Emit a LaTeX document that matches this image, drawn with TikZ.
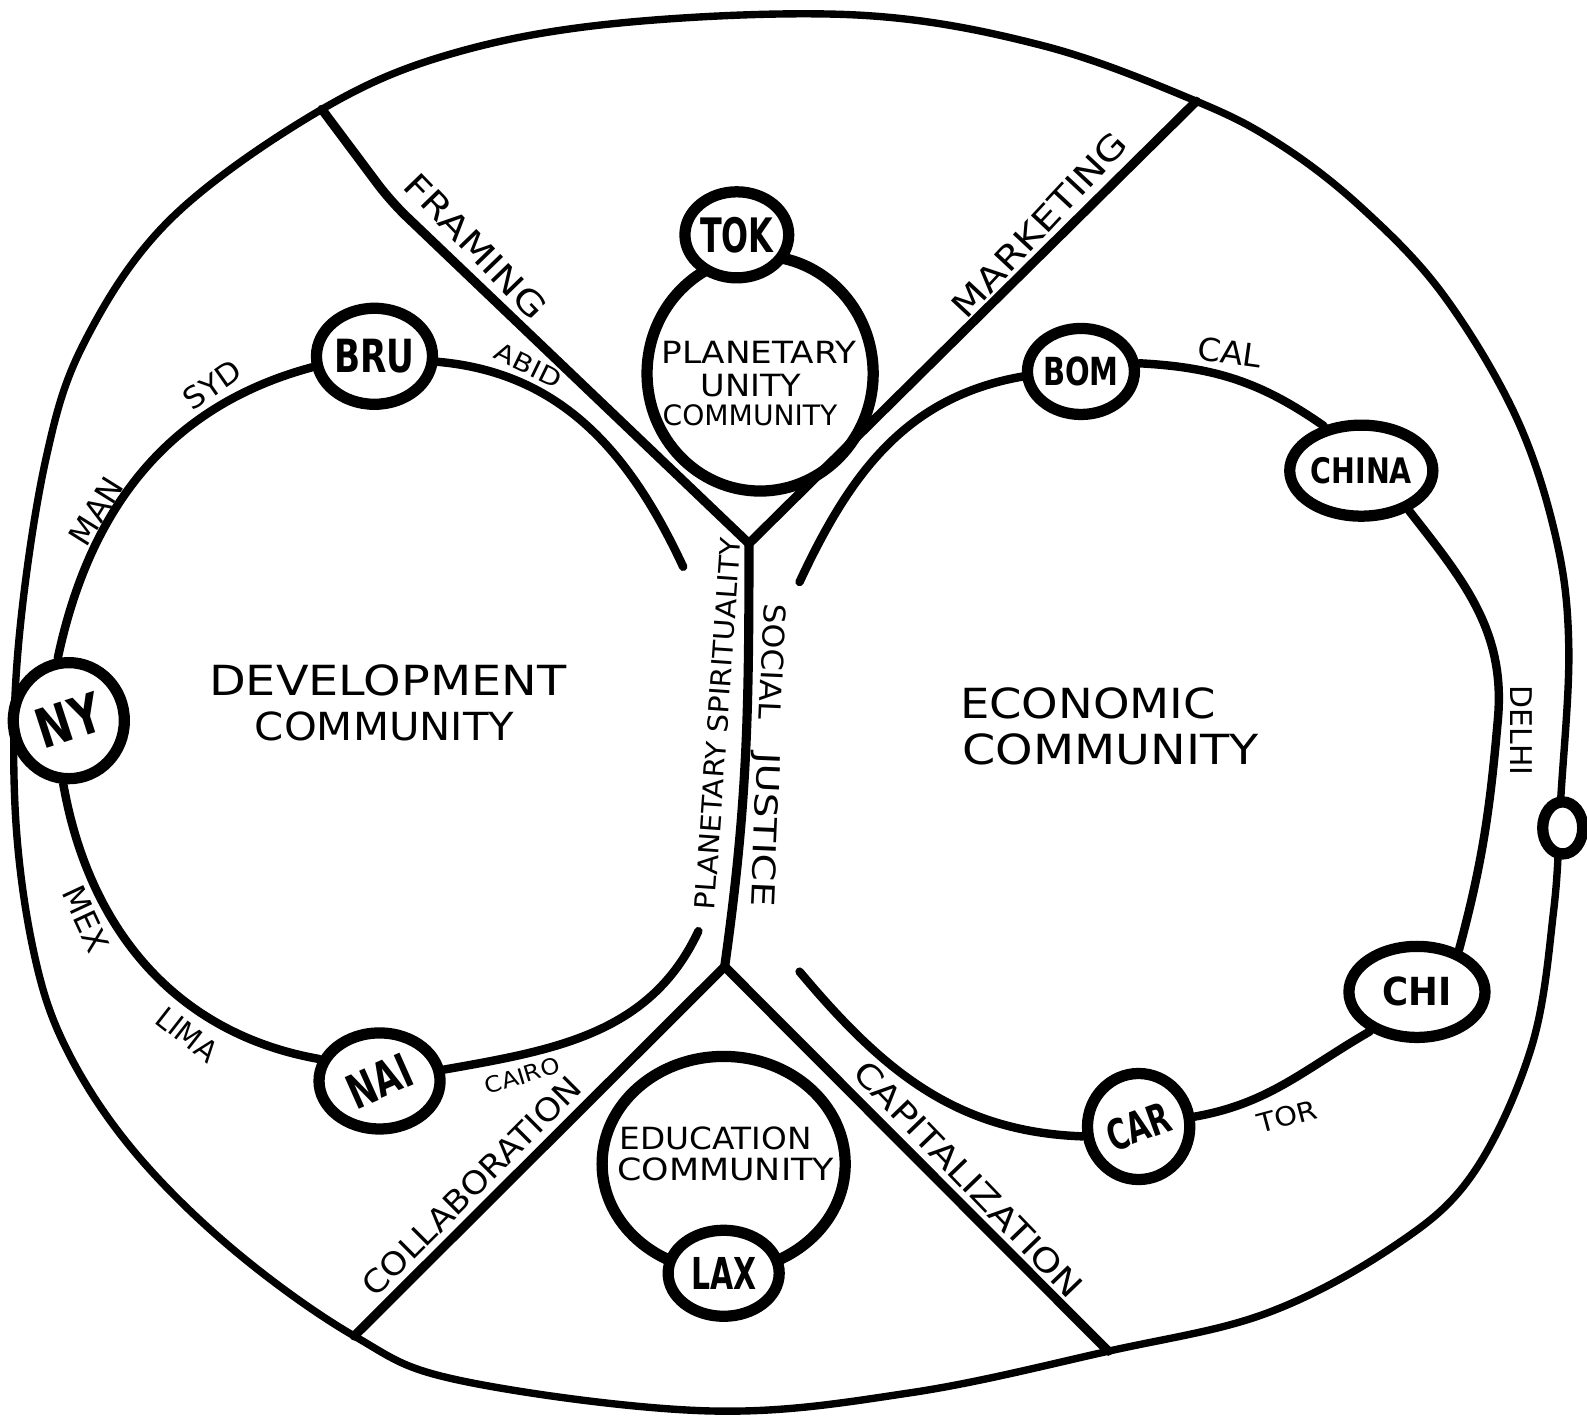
\documentclass[tikz,border=0pt]{standalone}
\usepackage{fontspec}
\setmainfont{DejaVu Sans}
\usepackage{graphicx}
\usetikzlibrary{shapes.geometric}
\newcommand\Tx[3]{{\fontsize{#1pt}{#1pt}\selectfont\scalebox{#2}[1]{#3}}}
\newcommand\Bx[3]{{\fontsize{#1pt}{#1pt}\selectfont\bfseries\scalebox{#2}[1]{#3}}}
\tikzset{
 city/.style={ellipse, draw, line width=3.2pt, fill=white, inner sep=0pt},
 ring/.style={ellipse, draw, line width=3.2pt, inner sep=0pt},
 arcline/.style={line width=2.4pt, line cap=round},
 divide/.style={line width=2.6pt, line cap=round, line join=round},
 rim/.style={line width=2.1pt},
 lab/.style={inner sep=0pt},
}
\begin{document}
\begin{tikzpicture}[x=0.01012cm,y=-0.01012cm]
\fill[white] (0,0) rectangle (1568,1405);
\useasboundingbox (0,0) rectangle (1568,1405);
% key points
\coordinate (ftl) at (318,108);
\coordinate (fk) at (386,199);
\coordinate (mtr) at (1182,100);
\coordinate (cbl) at (350,1320);
\coordinate (cbr) at (1095,1335);
\coordinate (yt) at (740,537);
\coordinate (yb) at (716,955);
\coordinate (dv1) at (690,920);
\coordinate (dv2) at (675,560);
\coordinate (ec1) at (790,575);
\coordinate (ec2) at (1480,710);
\coordinate (ec3) at (790,960);
% outer boundary
\draw[rim] plot[smooth cycle, tension=0.6] coordinates {(ftl) (450,52) (620,22) (850,15) (1030,45) (mtr) (1265,143) (1345,205) (1425,290) (1497,410) (1537,530) (1550,640) (1542,790) (1535,900) (1513,1035) (1455,1160) (1376,1232) (1250,1298) (cbr) (900,1376) (700,1394) (455,1364) (cbl) (231,1235) (132,1137) (66,1037) (33,939) (15,800) (18,640) (45,455) (85,335) (170,215)};
% dividing lines
\draw[divide, rounded corners=6pt] (ftl) -- (fk) -- (yt);
\draw[divide] (mtr) -- (yt);
\draw[divide] (yt) to[out=-90,in=82] (yb);
\draw[divide] (yb) -- (cbl);
\draw[divide] (yb) -- (cbr);
% nodes
\node[ring, minimum width=2.26cm, minimum height=2.35cm] (puc) at (751,369) {};
\node[ring, minimum width=2.43cm, minimum height=2.15cm] (edu) at (715,1150) {};
\node[city, minimum width=1.01cm, minimum height=0.86cm] (tok) at (728,232) {\Bx{13.5}{0.67}{TOK}};
\node[city, minimum width=1.11cm, minimum height=0.86cm] (lax) at (715,1258) {\Bx{12.5}{0.68}{LAX}};
\node[city, minimum width=1.16cm, minimum height=0.96cm] (bru) at (370,352) {\Bx{13}{0.75}{BRU}};
\node[city, minimum width=1.11cm, minimum height=1.16cm] (ny) at (68,712) {\rotatebox{18}{\Bx{15.5}{0.77}{NY}}};
\node[city, minimum width=1.21cm, minimum height=0.96cm] (nai) at (375,1068) {\rotatebox{24}{\Bx{13.5}{0.7}{NAI}}};
\node[city, minimum width=1.01cm, minimum height=0.86cm] (bom) at (1068,367) {\Bx{11}{0.75}{BOM}};
\node[city, minimum width=1.23cm, minimum height=0.91cm] (china) at (1345,465) {\Bx{10}{0.81}{CHINA}};
\node[city, minimum width=1.36cm, minimum height=0.91cm] (chi) at (1400,980) {\Bx{11}{0.92}{CHI}};
\node[city, minimum width=0.99cm, minimum height=1.06cm] (car) at (1125,1113) {\rotatebox{20}{\Bx{12}{0.68}{CAR}}};
\node[city, minimum width=0.40cm, minimum height=0.52cm] (rn) at (1544,818) {};
% development community ring
\draw[arcline] (bru.190) to[out=195,in=78] (ny.100);
\draw[arcline] (ny.265) to[out=-80,in=170] (nai.160);
\draw[arcline] (nai.10) to[out=10,in=-115] (dv1);
\draw[arcline] (bru.-5) to[out=-5,in=115] (dv2);
% economic community ring
\draw[arcline] (bom.185) to[out=190,in=65] (ec1);
\draw[arcline] (bom.8) to[out=-3,in=145] (china.130);
\draw[arcline] (china.-40) to[out=-52,in=85] (ec2) to[out=-95,in=75] (chi.45);
\draw[arcline] (chi.220) to[out=-150,in=10] (car.10);
\draw[arcline] (car.190) to[out=178,in=-50] (ec3);
% community texts
\node[lab] (t1) at (383,672) {\Tx{11.8}{1.15}{DEVELOPMENT}};
\node[lab] (t2) at (380,718) {\Tx{11}{1.08}{COMMUNITY}};
\node[lab] (t3) at (1075,695) {\Tx{11.8}{1.12}{ECONOMIC}};
\node[lab] (t4) at (1097,740) {\Tx{11.8}{1.15}{COMMUNITY}};
\node[lab] (t5) at (750,348) {\Tx{8.7}{1.12}{PLANETARY}};
\node[lab] (t6) at (742,381) {\Tx{8.7}{1.1}{UNITY}};
\node[lab] (t7) at (741,410) {\Tx{8}{1.0}{COMMUNITY}};
\node[lab] (t8) at (707,1125) {\Tx{8.7}{1.07}{EDUCATION}};
\node[lab] (t9) at (717,1155) {\Tx{8.7}{1.14}{COMMUNITY}};
% line labels
\node[lab, rotate=-46] (l1) at (470,243) {\Tx{9.5}{1.22}{FRAMING}};
\node[lab, rotate=47] (l2) at (1027,222) {\Tx{9.5}{1.2}{MARKETING}};
\node[lab, rotate=45] (l3) at (466,1172) {\Tx{9}{1.1}{COLLABORATION}};
\node[lab, rotate=-46] (l4) at (957,1165) {\Tx{9.2}{1.2}{CAPITALIZATION}};
\node[lab, rotate=86] (l5) at (709,715) {\Tx{7.9}{1.06}{PLANETARY SPIRITUALITY}};
\node[lab, rotate=-92.5] (l6) at (757,746) {\Tx{8.5}{1.06}{SOCIAL}\hspace{9.5pt}\Tx{9}{1.25}{JUSTICE}};
% city-to-city labels
\node[lab, rotate=-26] (c1) at (522,361) {\Tx{7}{1.18}{ABID}};
\node[lab, rotate=35] (c2) at (210,380) {\Tx{8.5}{1.05}{SYD}};
\node[lab, rotate=58] (c3) at (95,505) {\Tx{9}{1.0}{MAN}};
\node[lab, rotate=-65] (c4) at (85,908) {\Tx{9}{1.0}{MEX}};
\node[lab, rotate=-38] (c5) at (185,1022) {\Tx{8.5}{0.95}{LIMA}};
\node[lab, rotate=17] (c6) at (516,1063) {\Tx{6.3}{1.1}{CAIRO}};
\node[lab, rotate=-8] (c7) at (1215,348) {\Tx{9}{1.05}{CAL}};
\node[lab, rotate=15] (c8) at (1272,1103) {\Tx{7.5}{1.1}{TOR}};
\node[lab, rotate=-90] (c9) at (1503,722) {\Tx{8.5}{1.0}{DELHI}};
\end{tikzpicture}
\end{document}
